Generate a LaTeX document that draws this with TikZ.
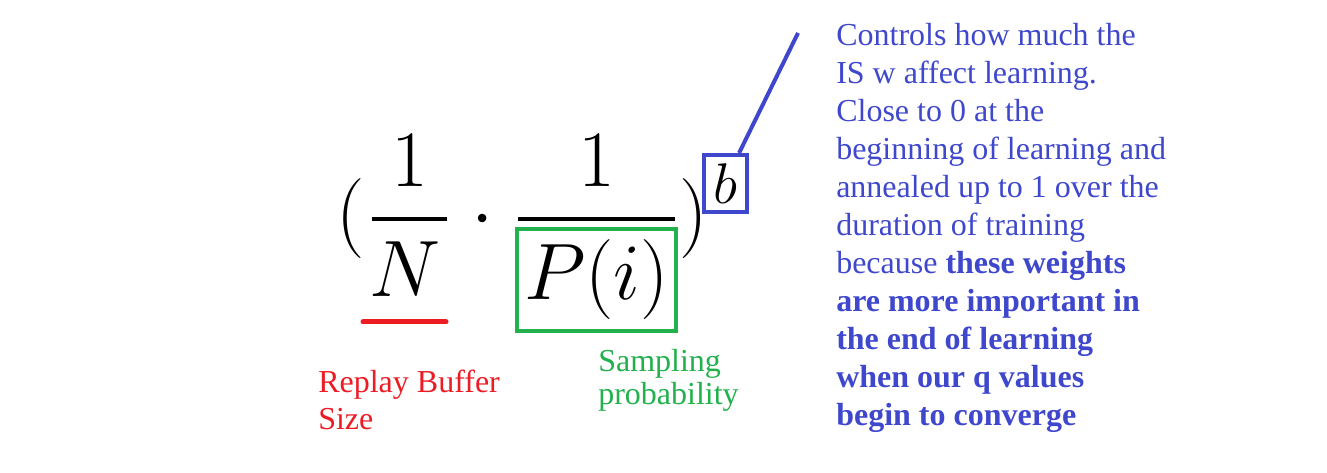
\RequirePackage{fix-cm}
\documentclass[tikz,border=0pt]{standalone}
\usepackage{amsmath}
\usepackage{fontspec}
\newfontfamily\notefont{Liberation Serif}
\definecolor{noteblue}{RGB}{63,72,204}
\definecolor{bufred}{RGB}{237,28,36}
\definecolor{sampgreen}{RGB}{34,177,76}

\begin{document}
\begin{tikzpicture}[x=0.75pt,y=-0.75pt,
	formula/.style={font=\fontsize{60}{72}\selectfont,inner sep=0pt,anchor=base},
	note/.style={font=\notefont\fontsize{24}{28.5}\selectfont,align=left,inner sep=0pt,anchor=base west}]
	\useasboundingbox (0,0) rectangle (1327,473);
	
	%FORMULA
	\node[formula] (lpar) at (351,239) {$($};
	\node[formula] (oneN) at (410,187) {$1$};
	\node[formula] (N) at (405,297) {$N$};
	\node[formula] (dot) at (483,239) {$\cdot$};
	\node[formula] (oneP) at (597,187) {$1$};
	\node[formula,anchor=center,draw=sampgreen,line width=2.6pt,minimum width=119.25pt,minimum height=76.5pt] (Pi) at (596.5,280) {$P(i)$};
	\node[formula] (rpar) at (694,239) {$)$};
	\node[formula,anchor=center,font=\fontsize{43}{50}\selectfont,draw=noteblue,line width=3pt,minimum width=32.25pt,minimum height=42.75pt] (b) at (725.5,183.5) {$b$};
	
	%BARS
	\draw[line width=2.6pt] (372,219) -- (447,219);
	\draw[line width=2.6pt] (518,219) -- (675,219);
	\draw[bufred,line width=3.75pt,line cap=round] (363,322) -- (446,322);
	
	%POINTER
	\coordinate (tip) at (798,33);
	\draw[noteblue,line width=3pt] (b.66) -- (tip);
	
	%LABELS (base = last line)
	\node[note,text=bufred,font=\notefont\fontsize{24}{27.75}\selectfont] (buffer) at (318,430) {Replay Buffer\\Size};
	\node[note,text=sampgreen,font=\notefont\fontsize{24}{24.75}\selectfont] (sampling) at (598,405) {Sampling\\probability};
	\node[note,text=noteblue] (controls) at (836,426) {Controls how much the\\IS w affect learning.\\Close to 0 at the\\beginning of learning and\\annealed up to 1 over the\\duration of training\\because \textbf{these weights}\\\textbf{are more important in}\\\textbf{the end of learning}\\\textbf{when our q values}\\\textbf{begin to converge}};
\end{tikzpicture}
\end{document}
